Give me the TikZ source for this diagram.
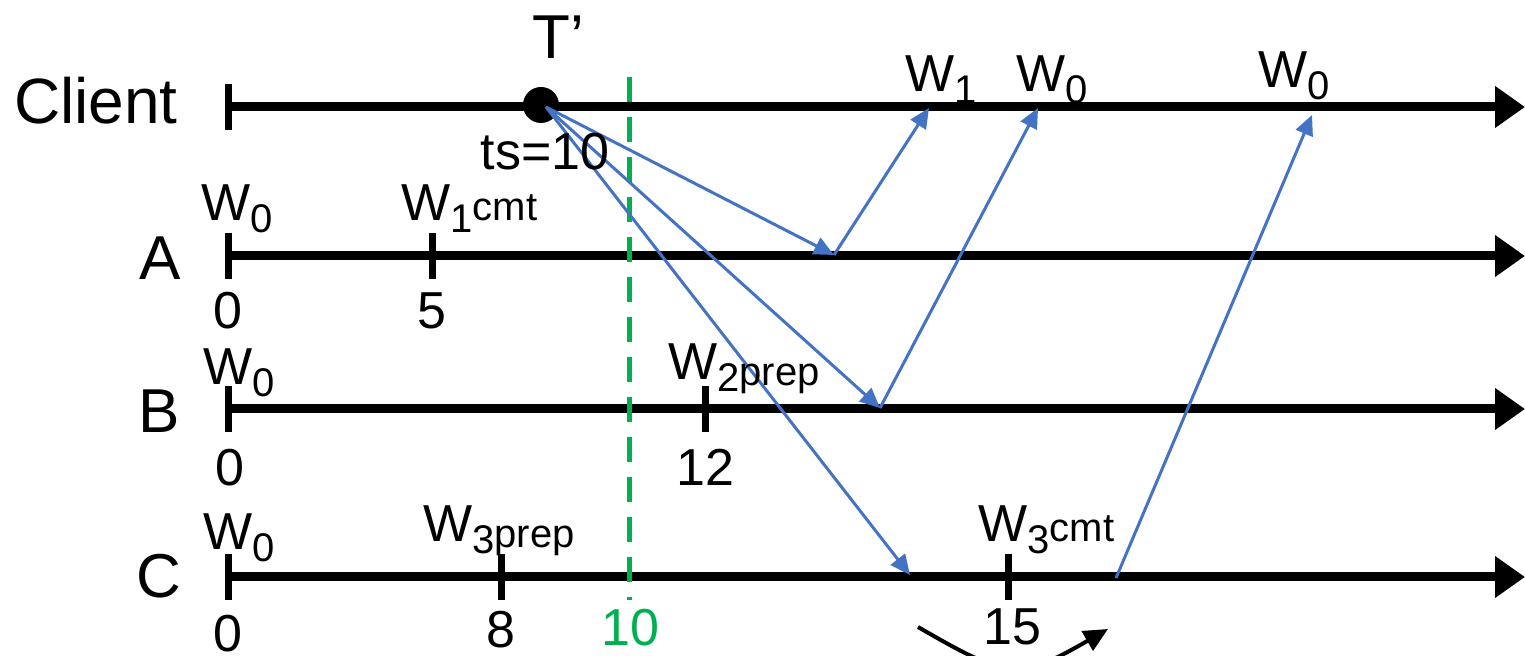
\documentclass[tikz,border=0pt]{standalone}
\usepackage{fontspec}
\setmainfont{Liberation Sans}
\usetikzlibrary{arrows.meta}
\definecolor{ablue}{HTML}{4472C4}
\definecolor{agreen}{HTML}{00B050}
\newcommand\fsz[1]{\fontsize{#1}{#1}\selectfont}
\newcommand\Wlab[3][0pt]{W\raisebox{-6pt}{\fsz{20}#2}\raisebox{#1}{\fsz{20}#3}}
\begin{document}
\begin{tikzpicture}[x=0.5pt,y=-0.5pt,
  timeline/.style={line width=4.5pt,-{Triangle[length=15pt,width=20pt]}},
  tickmark/.style={line width=3.5pt},
  msg/.style={ablue,line width=1.5pt,-{Triangle[length=10pt,width=9pt]}},
  lbl/.style={font=\fsz{26},inner sep=0pt,anchor=base},
  wlbl/.style={font=\fsz{26},inner sep=0pt,anchor=base west},
  big/.style={font=\fsz{32},inner sep=0pt,anchor=base}]
\useasboundingbox (0,0) rectangle (1525,656);

% timelines
\coordinate (c0) at (228,107); \coordinate (c1) at (1525,107);
\coordinate (a0) at (228,256); \coordinate (a1) at (1525,256);
\coordinate (b0) at (228,409); \coordinate (b1) at (1525,409);
\coordinate (d0) at (228,577); \coordinate (d1) at (1525,577);
\draw[timeline] (c0) -- (c1);
\draw[timeline] (a0) -- (a1);
\draw[timeline] (b0) -- (b1);
\draw[timeline] (d0) -- (d1);

% ticks
\coordinate (a5) at (432,256);
\coordinate (b12) at (705,409);
\coordinate (d8) at (501,577);
\coordinate (d15) at (1008,577);
\foreach \t in {c0,a0,a5,b0,b12,d0,d8,d15}
  \draw[tickmark] ([yshift=11.5pt]\t) -- ([yshift=-11.5pt]\t);

% green dashed line
\coordinate (g0) at (629,77); \coordinate (g1) at (629,600);
\draw[agreen,line width=2.5pt,dash pattern=on 12.5pt off 7.5pt] (g0) -- (g1);

% client dot
\node[circle,fill=black,minimum size=18pt,inner sep=0pt] (dot) at (541,105) {};
\coordinate (o) at (546,107);

% messages
\coordinate (ar) at (834,255);
\coordinate (br) at (880,408);
\coordinate (cr) at (910,575);
\coordinate (cs) at (1116,578);
\coordinate (cw1) at (929,108);
\coordinate (cw0) at (1038,108);
\coordinate (cw0b) at (1312,115);
\draw[msg] (o) -- (ar);
\draw[msg] (o) -- (br);
\draw[msg] (o) -- (cr);
\draw[msg] (ar) -- (cw1);
\draw[msg] (br) -- (cw0);
\draw[msg] (cs) -- (cw0b);

% bottom curved arrow (clipped by the page)
\coordinate (k0) at (918,627); \coordinate (k1) at (1108,629);
\draw[line width=2pt,-{Triangle[length=12pt,width=11pt]}]
  (k0) .. controls (1008,679) and (1018,681) .. (k1);

% row labels
\node[big] (lclient) at (96,124) {Client};
\node[big,font=\fsz{31}] (lA) at (160,280) {A};
\node[big,font=\fsz{31}] (lB) at (159,433) {B};
\node[big,font=\fsz{31}] (lC) at (159,598) {C};

% client labels
\node[big,font=\fsz{31}] (lT) at (558,59) {T’};
\node[lbl] (lts) at (545,170) {ts=10};
\node[wlbl] (cW1) at (905,92) {\Wlab{1}{}};
\node[wlbl] (cW0) at (1016,92) {\Wlab{0}{}};
\node[wlbl] (cW0b) at (1258,88) {\Wlab{0}{}};

% A labels
\node[wlbl] (aW0) at (201,221) {\Wlab{0}{}};
\node[wlbl] (aW1) at (401,221) {\Wlab{1}{cmt}};
\node[lbl] (an0) at (228,329) {0};
\node[lbl] (an5) at (432,329) {5};

% B labels
\node[wlbl] (bW0) at (203,385) {\Wlab{0}{}};
\node[wlbl] (bW2) at (668,380) {\Wlab[-3pt]{2}{prep}};
\node[lbl] (bn0) at (230,486) {0};
\node[lbl] (bn12) at (705,486) {12};

% C labels
\node[wlbl] (dW0) at (203,550) {\Wlab{0}{}};
\node[wlbl] (dW3p) at (423,542) {\Wlab[-3pt]{3}{prep}};
\node[wlbl] (dW3c) at (978,542) {\Wlab{3}{cmt}};
\node[lbl] (dn0) at (228,652) {0};
\node[lbl] (dn8) at (501,647) {8};
\node[lbl,text=agreen] (dn10) at (630,646) {10};
\node[lbl] (dn15) at (1012,645) {15};
\end{tikzpicture}
\end{document}
